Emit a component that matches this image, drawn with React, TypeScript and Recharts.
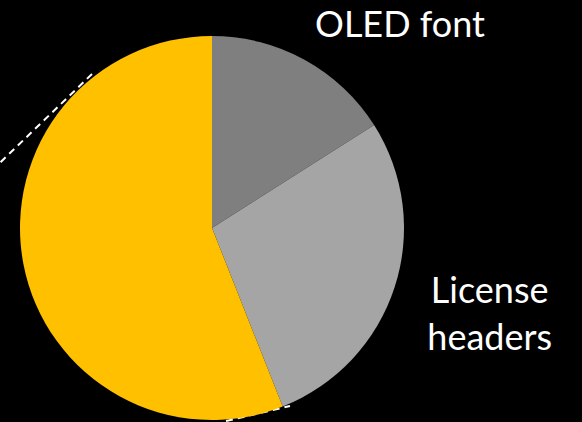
import { Cell, Customized, Pie, PieChart } from "recharts";

const names = ["OLED font", "License headers", "Other"];
const shares = [16, 28, 56];
const colors = ["#7f7f7f", "#a5a5a5", "#ffc000"];

const data = names.map((name, i) => ({ name, value: shares[i] }));

// label lines, keyed by slice name; yellow slice has no label in view
const labelLines: Record<string, string[]> = {
    "OLED font": ["OLED font"],
    "License headers": ["License", "headers"],
};

const renderLabel = (props: any) => {
    const { cx, cy, midAngle, outerRadius, name } = props;
    const lines = labelLines[name];
    if (!lines) return null;
    const RAD = Math.PI / 180;
    let x = cx + (outerRadius + 100) * Math.cos(-midAngle * RAD);
    let y = cy + (outerRadius + 100) * Math.sin(-midAngle * RAD) - 6;
    // OLED label sits higher up than its slice middle, pulled onto the canvas
    if (name === "OLED font") {
        x = cx + 188;
        y = cy - 205;
    }
    const lineH = 47;
    const top = y - ((lines.length - 1) * lineH) / 2;
    return (
        <text
            x={x}
            y={top}
            fill="#ffffff"
            fontSize={36}
            fontFamily="Lato, 'Open Sans', sans-serif"
            textAnchor="middle"
            dominantBaseline="central"
        >
            {lines.map((l, i) => (
                <tspan key={l} x={x} dy={i === 0 ? 0 : lineH}>
                    {l}
                </tspan>
            ))}
        </text>
    );
};

// dashed connector lines leaving the pie towards the left
const Connectors = () => {
    const cx = 212;
    const cy = 228;
    const segs = [
        [-120, -154, -232, -46],
        [14, 193, 78, 178],
    ];
    return (
        <g>
            {segs.map((s, i) => (
                <line
                    key={i}
                    x1={cx + s[0]}
                    y1={cy + s[1]}
                    x2={cx + s[2]}
                    y2={cy + s[3]}
                    stroke="#ffffff"
                    strokeWidth={2}
                    strokeDasharray="7 5"
                />
            ))}
        </g>
    );
};

export default function App() {
    return (
        <div
            style={{
                position: "fixed",
                left: 0,
                top: 0,
                width: 582,
                height: 422,
                background: "#000000",
            }}
        >
            <PieChart width={582} height={422} margin={{ top: 0, right: 0, bottom: 0, left: 0 }}>
                <Pie
                    data={data}
                    dataKey="value"
                    nameKey="name"
                    cx={212}
                    cy={228}
                    outerRadius={192}
                    startAngle={90}
                    endAngle={-270}
                    stroke="none"
                    label={renderLabel}
                    labelLine={false}
                    isAnimationActive={false}
                >
                    {data.map((d, i) => (
                        <Cell key={d.name} fill={colors[i]} />
                    ))}
                </Pie>
                <Customized component={Connectors} />
            </PieChart>
        </div>
    );
}
